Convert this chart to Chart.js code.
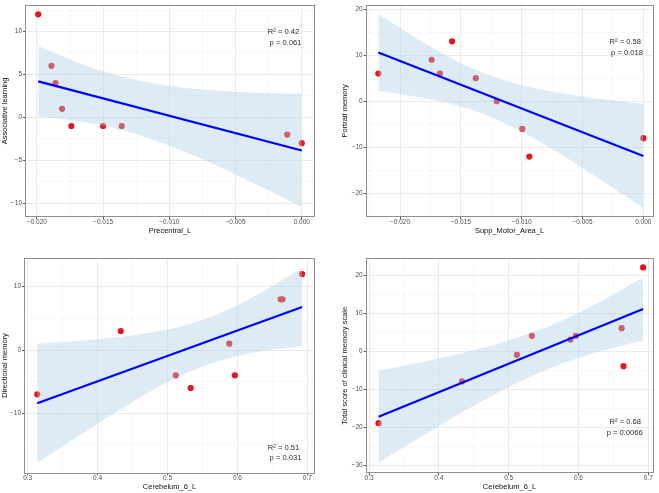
<!DOCTYPE html>
<html><head><meta charset="utf-8">
<script src="https://cdn.jsdelivr.net/npm/chart.js@4.4.1/dist/chart.umd.min.js"></script>
<style>
html,body{margin:0;padding:0;background:#fff;width:659px;height:493px;overflow:hidden}
canvas{position:absolute}
</style></head><body>
<canvas id="c1" width="330" height="245" style="left:0px;top:0px"></canvas>
<canvas id="c2" width="329" height="245" style="left:330px;top:0px"></canvas>
<canvas id="c3" width="330" height="248" style="left:0px;top:245px"></canvas>
<canvas id="c4" width="329" height="248" style="left:330px;top:245px"></canvas>
<script>
// ---------- Panel 1: Precentral_L vs Associative learning ----------
const precentralX = [-0.0199, -0.0189, -0.0186, -0.0181, -0.0174, -0.0150, -0.0136, -0.0011, 0.0];
const associativeY = [12, 6, 4, 1, -1, -1, -1, -2, -3];
const p1FitX = [-0.0199, 0.0];
const p1FitY = [4.2, -3.85];
const p1BandX = [-0.0199, -0.0175, -0.015, -0.0125, -0.010, -0.0075, -0.005, -0.0025, 0.0];
const p1BandUpper = [8.30, 6.75, 5.37, 4.35, 3.66, 3.24, 2.99, 2.84, 2.75];
const p1BandLower = [0.10, -0.29, -0.93, -1.93, -3.27, -4.88, -6.65, -8.52, -10.45];
const p1XTicks = [-0.020, -0.015, -0.010, -0.005, 0.000];
const p1XLabels = ['\u22120.020', '\u22120.015', '\u22120.010', '\u22120.005', '0.000'];
const p1YTicks = [-10, -5, 0, 5, 10];
const p1YLabels = ['\u221210', '\u22125', '0', '5', '10'];
const p1Stats = ['R\u00B2 = 0.42', 'p = 0.061'];

// ---------- Panel 2: Supp_Motor_Area_L vs Portrait memory ----------
const suppMotorX = [-0.02178, -0.0174, -0.01672, -0.01572, -0.01377, -0.01205, -0.00995, -0.00937, 0.0];
const portraitY = [6, 9, 6, 13, 5, 0, -6, -12, -8];
const p2FitX = [-0.02178, 0.0];
const p2FitY = [10.57, -11.86];
const p2BandX = [-0.02178, -0.019, -0.016, -0.013, -0.010, -0.0075, -0.005, -0.0025, 0.0];
const p2BandUpper = [18.88, 14.26, 9.68, 5.98, 3.48, 2.09, 1.05, 0.17, -0.61];
const p2BandLower = [2.26, 1.16, -0.44, -2.92, -6.60, -10.37, -14.47, -18.75, -23.11];
const p2XTicks = [-0.020, -0.015, -0.010, -0.005, 0.000];
const p2XLabels = ['\u22120.020', '\u22120.015', '\u22120.010', '\u22120.005', '0.000'];
const p2YTicks = [-20, -10, 0, 10, 20];
const p2YLabels = ['\u221220', '\u221210', '0', '10', '20'];
const p2Stats = ['R\u00B2 = 0.58', 'p = 0.018'];

// ---------- Panels 3 & 4: Cerebelum_6_L ----------
const cerebelumX = [0.3136, 0.4331, 0.5118, 0.5332, 0.5884, 0.5964, 0.6618, 0.6645, 0.6926];
const directionalY = [-7, 3, -4, -6, 1, -4, 8, 8, 12];
const totalScoreY = [-19, -8, -1, 4, 3, 4, 6, -4, 22];

const p3FitX = [0.3136, 0.6926];
const p3FitY = [-8.42, 6.79];
const p3BandX = [0.3136, 0.35, 0.40, 0.45, 0.50, 0.55, 0.60, 0.65, 0.6926];
const p3BandUpper = [0.98, 1.25, 1.71, 2.31, 3.23, 4.75, 7.09, 10.10, 12.94];
const p3BandLower = [-17.82, -15.19, -11.63, -8.21, -5.11, -2.61, -0.93, 0.08, 0.64];
const p3XTicks = [0.3, 0.4, 0.5, 0.6, 0.7];
const p3XLabels = ['0.3', '0.4', '0.5', '0.6', '0.7'];
const p3YTicks = [-10, 0, 10];
const p3YLabels = ['\u221210', '0', '10'];
const p3Stats = ['R\u00B2 = 0.51', 'p = 0.031'];

const p4FitX = [0.3136, 0.6926];
const p4FitY = [-17.3, 11.05];
const p4BandX = [0.3136, 0.35, 0.40, 0.45, 0.50, 0.55, 0.60, 0.65, 0.6926];
const p4BandUpper = [-5.20, -3.88, -1.95, 0.19, 2.76, 5.99, 10.08, 14.87, 19.35];
const p4BandLower = [-29.40, -25.26, -19.71, -14.39, -9.48, -5.23, -1.84, 0.83, 2.75];
const p4XTicks = [0.3, 0.4, 0.5, 0.6, 0.7];
const p4XLabels = ['0.3', '0.4', '0.5', '0.6', '0.7'];
const p4YTicks = [-30, -20, -10, 0, 10, 20];
const p4YLabels = ['\u221230', '\u221220', '\u221210', '0', '10', '20'];
const p4Stats = ['R\u00B2 = 0.68', 'p = 0.0066'];

// ---------- drawing ----------
const FONT = "'Liberation Sans', Arial, sans-serif";
const zip = (xs, ys) => xs.map((x, i) => ({x: x, y: ys[i]}));
function withMinors(major, min, max) {
  const step = major[1] - major[0];
  const out = [];
  for (let i = -1; i < major.length; i++) {
    const base = i < 0 ? major[0] - step : major[i];
    if (i >= 0) out.push({value: major[i], major: true});
    const m = base + step / 2;
    if (m > min && m < max) out.push({value: m, major: false});
  }
  return out.sort((a, b) => a.value - b.value);
}

function makePanel(id, p) {
  const cv = document.getElementById(id);
  const W = cv.width, H = cv.height;
  const isMajor = (ticks, v) => ticks.some(t => Math.abs(t - v) < 1e-9);
  const framePlugin = {
    id: 'frame',
    afterDraw(chart) {
      const c = chart.ctx, a = chart.chartArea;
      c.save();
      c.strokeStyle = '#8f8f8f';
      c.lineWidth = 1;
      c.strokeRect(Math.round(a.left) + 0.5, Math.round(a.top) + 0.5,
                   Math.round(a.right - a.left) - 1, Math.round(a.bottom - a.top) - 1);
      c.fillStyle = '#2b2b2b';
      c.font = '7.6px ' + FONT;
      c.textAlign = 'center';
      c.textBaseline = 'middle';
      p.statsPos.forEach((pos, i) => c.fillText(p.stats[i], pos[0], pos[1]));
      c.restore();
    }
  };
  const axis = (ticks, labels, min, max, title, titlePad, isX) => ({
    type: 'linear', min: min, max: max,
    afterBuildTicks: s => { s.ticks = withMinors(ticks, min, max).map(t => ({value: t.value})); },
    afterFit: s => { if (isX) s.height = H - p.area[3]; else s.width = p.area[0]; },
    grid: {
      color: c => isMajor(ticks, c.tick.value) ? '#ebebeb' : '#f4f4f4',
      lineWidth: c => isMajor(ticks, c.tick.value) ? 1 : 0.6,
      tickColor: c => isMajor(ticks, c.tick.value) ? '#555555' : 'rgba(0,0,0,0)',
      tickLength: 2, drawTicks: true
    },
    border: {display: false},
    ticks: {
      autoSkip: false, maxRotation: 0, padding: isX ? -1 : 1,
      color: '#4d4d4d', font: {family: FONT, size: 6.5},
      callback: v => { const i = ticks.findIndex(t => Math.abs(t - v) < 1e-9); return i >= 0 ? labels[i] : ''; }
    },
    title: {display: true, text: title, color: '#111', font: {family: FONT, size: 7.5},
            padding: isX ? {top: 0, bottom: titlePad} : {top: titlePad, bottom: 0}}
  });
  return new Chart(cv, {
    type: 'scatter',
    data: {
      datasets: [
        {data: zip(p.bandX, p.bandUpper), showLine: true, pointRadius: 0, borderWidth: 0,
         borderColor: 'rgba(0,0,0,0)', fill: '+1', backgroundColor: 'rgba(170,205,228,0.4)',
         cubicInterpolationMode: 'monotone', order: 2},
        {data: zip(p.bandX, p.bandLower), showLine: true, pointRadius: 0, borderWidth: 0,
         borderColor: 'rgba(0,0,0,0)', fill: false, cubicInterpolationMode: 'monotone', order: 2},
        {data: zip(p.x, p.y), pointRadius: 3.1, pointBackgroundColor: '#e3161b',
         pointBorderWidth: 0, borderWidth: 0, order: 3},
        {data: zip(p.fitX, p.fitY), showLine: true, pointRadius: 0, borderColor: '#0000ff',
         borderWidth: 2.2, fill: false, order: 0}
      ]
    },
    options: {
      responsive: false, animation: false, devicePixelRatio: 1,
      layout: {padding: {left: 0, top: p.area[1], right: W - p.area[2], bottom: 0}},
      plugins: {legend: {display: false}, tooltip: {enabled: false}},
      scales: {
        x: axis(p.xTicks, p.xLabels, p.xMin, p.xMax, p.xTitle, p.xTitlePad, true),
        y: axis(p.yTicks, p.yLabels, p.yMin, p.yMax, p.yTitle, p.yTitlePad, false)
      }
    },
    plugins: [framePlugin]
  });
}

makePanel('c1', {x: precentralX, y: associativeY, fitX: p1FitX, fitY: p1FitY,
  bandX: p1BandX, bandUpper: p1BandUpper, bandLower: p1BandLower,
  xTicks: p1XTicks, xLabels: p1XLabels, yTicks: p1YTicks, yLabels: p1YLabels,
  xMin: -0.0209, xMax: 0.001, yMin: -11.6, yMax: 13.1,
  xTitle: 'Precentral_L', yTitle: 'Associative learning', xTitlePad: 9.8, yTitlePad: 0.5,
  area: [25, 2, 315, 217], stats: p1Stats, statsPos: [[283.5, 32.3], [285.5, 43.3]]});

makePanel('c2', {x: suppMotorX, y: portraitY, fitX: p2FitX, fitY: p2FitY,
  bandX: p2BandX, bandUpper: p2BandUpper, bandLower: p2BandLower,
  xTicks: p2XTicks, xLabels: p2XLabels, yTicks: p2YTicks, yLabels: p2YLabels,
  xMin: -0.02282, xMax: 0.00082, yMin: -25.1, yMax: 20.9,
  xTitle: 'Supp_Motor_Area_L', yTitle: 'Portrait memory', xTitlePad: 9.8, yTitlePad: 10.5,
  area: [35.7, 2.7, 323.3, 217], stats: p2Stats, statsPos: [[295.3, 42.3], [297, 53.3]]});

makePanel('c3', {x: cerebelumX, y: directionalY, fitX: p3FitX, fitY: p3FitY,
  bandX: p3BandX, bandUpper: p3BandUpper, bandLower: p3BandLower,
  xTicks: p3XTicks, xLabels: p3XLabels, yTicks: p3YTicks, yLabels: p3YLabels,
  xMin: 0.2947, xMax: 0.711, yMin: -19.47, yMax: 14.58,
  xTitle: 'Cerebelum_6_L', yTitle: 'Directional memory', xTitlePad: 1.5, yTitlePad: 0,
  area: [24, 12.7, 315, 228.3], stats: p3Stats, statsPos: [[283.5, 202.7], [285.5, 213.3]]});

makePanel('c4', {x: cerebelumX, y: totalScoreY, fitX: p4FitX, fitY: p4FitY,
  bandX: p4BandX, bandUpper: p4BandUpper, bandLower: p4BandLower,
  xTicks: p4XTicks, xLabels: p4XLabels, yTicks: p4YTicks, yLabels: p4YLabels,
  xMin: 0.2952, xMax: 0.7072, yMin: -32.18, yMax: 24.4,
  xTitle: 'Cerebelum_6_L', yTitle: 'Total score of clinical memory scale', xTitlePad: 1.5, yTitlePad: 10.5,
  area: [35.7, 13.3, 323.3, 228.3], stats: p4Stats, statsPos: [[295.3, 176.7], [294.7, 188.3]]});
</script>
</body></html>
